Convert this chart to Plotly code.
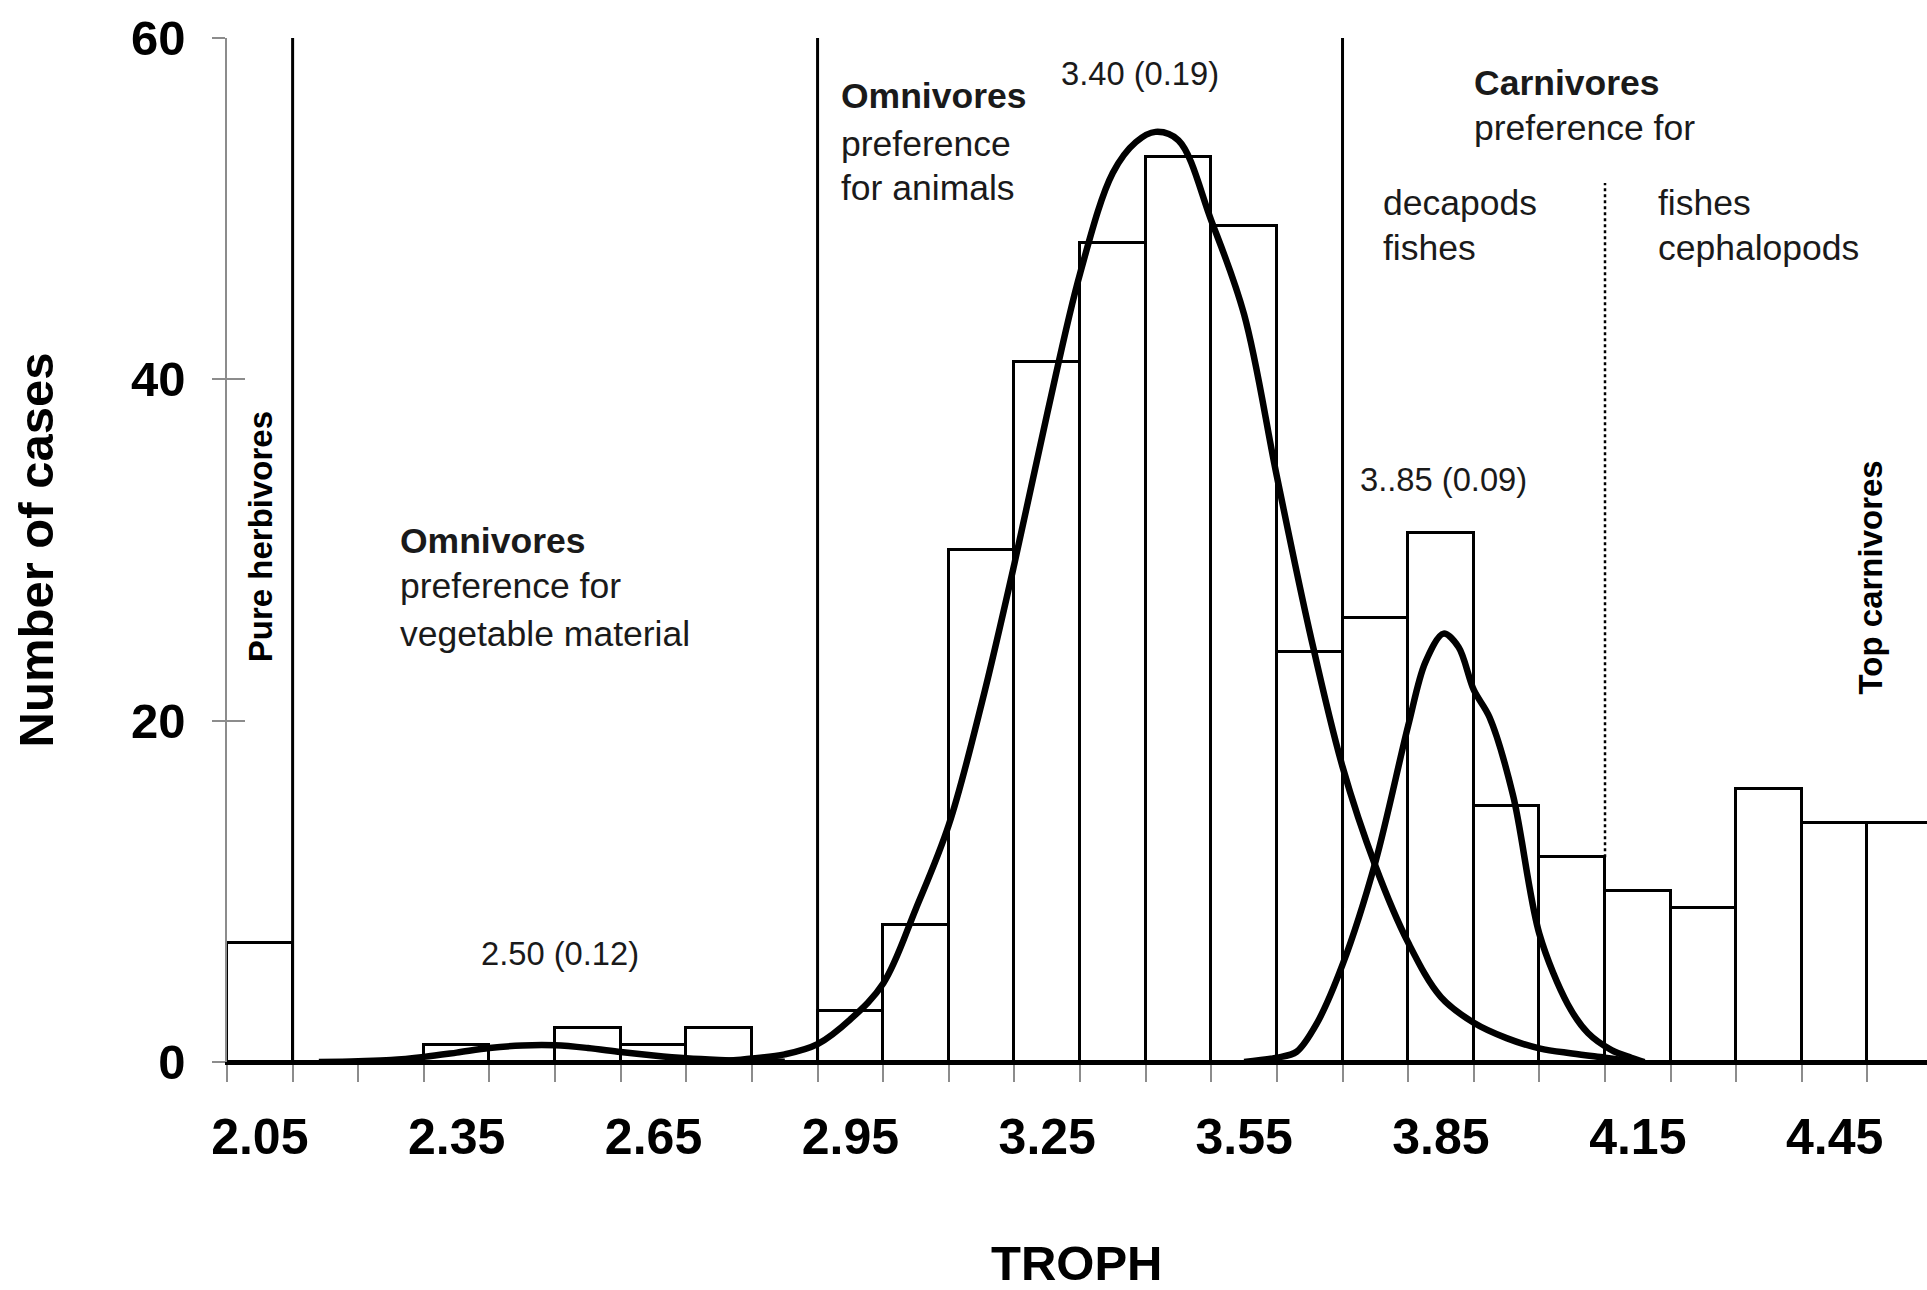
import plotly.graph_objects as go

# Frequency of trophic levels (TROPH), bins 0.1 wide
bin_centers = [2.05, 2.15, 2.25, 2.35, 2.45, 2.55, 2.65, 2.75, 2.85, 2.95,
               3.05, 3.15, 3.25, 3.35, 3.45, 3.55, 3.65, 3.75, 3.85, 3.95,
               4.05, 4.15, 4.25, 4.35, 4.45, 4.55]
counts = [7, 0, 0, 1, 0, 2, 1, 2, 0, 3,
          8, 30, 41, 48, 53, 49, 24, 26, 31, 15,
          12, 10, 9, 16, 14, 14]

# Fitted curves for the three modes
herb_x = [2.14, 2.20, 2.25, 2.30, 2.35, 2.40, 2.45, 2.50, 2.55, 2.60,
          2.65, 2.70, 2.75, 2.80, 2.85]
herb_y = [0.0, 0.05, 0.12, 0.3, 0.55, 0.82, 0.97, 0.98, 0.82, 0.58,
          0.38, 0.22, 0.12, 0.06, 0.02]

omni_x = [2.76, 2.80, 2.85, 2.90, 2.95, 3.00, 3.05, 3.10, 3.15, 3.20,
          3.25, 3.30, 3.35, 3.385, 3.415, 3.45, 3.50, 3.55, 3.60, 3.65,
          3.70, 3.75, 3.80, 3.85, 3.90, 3.95, 4.00, 4.05, 4.10, 4.15]
omni_y = [0.05, 0.2, 0.45, 1.05, 2.5, 4.6, 9.0, 13.9, 21.0, 29.2,
          38.0, 46.2, 52.1, 53.9, 54.5, 54.0, 49.3, 43.8, 34.3, 25.2,
          17.3, 11.5, 7.0, 3.8, 2.3, 1.4, 0.8, 0.5, 0.25, 0.0]

carn_x = [3.55, 3.60, 3.63, 3.66, 3.70, 3.75, 3.80, 3.826, 3.854, 3.877,
          3.90, 3.924, 3.96, 4.00, 4.043, 4.074, 4.11, 4.14, 4.16]
carn_y = [0.0, 0.25, 0.6, 2.2, 5.7, 11.7, 19.7, 23.4, 25.1, 24.3,
          21.8, 20.2, 15.6, 7.5, 3.4, 1.7, 0.7, 0.25, 0.0]

# Class boundaries (solid) and the sub-class boundary (dotted)
boundary_x = [2.1, 2.9, 3.7]
boundary_low = [0, 0, 9]
boundary_high = [60, 60, 60]
sub_boundary_x = 4.1
sub_boundary_low = 12
sub_boundary_high = 51.5

x_tick_vals = [2.05, 2.35, 2.65, 2.95, 3.25, 3.55, 3.85, 4.15, 4.45]
x_tick_text = ["2.05", "2.35", "2.65", "2.95", "3.25", "3.55", "3.85", "4.15", "4.45"]
y_tick_vals = [0, 20, 40, 60]

# Mode labels: text, x, y
mode_labels = [("3.40 (0.19)", 3.391, 57.9),
               ("3..85 (0.09)", 3.854, 34.15),
               ("2.50 (0.12)", 2.5075, 6.34)]

# Group descriptions: text, x (left edge), y, bold
group_lines = [("Omnivores", 2.9326, 56.6, True),
               ("preference", 2.9326, 53.8, False),
               ("for animals", 2.9326, 51.2, False),
               ("Carnivores", 3.897, 57.35, True),
               ("preference for", 3.897, 54.7, False),
               ("decapods", 3.758, 50.36, False),
               ("fishes", 3.758, 47.7, False),
               ("fishes", 4.178, 50.36, False),
               ("cephalopods", 4.178, 47.7, False),
               ("Omnivores", 2.260, 30.55, True),
               ("preference for", 2.260, 27.9, False),
               ("vegetable material", 2.260, 25.1, False)]

# Vertical labels: text, x, y
vertical_labels = [("Pure herbivores", 2.0506, 30.76),
                   ("Top carnivores", 4.504, 28.4)]

BASE_FONT = "Liberation Sans, Arial, sans-serif"

fig = go.Figure()

fig.add_trace(go.Bar(
    x=bin_centers, y=counts, width=0.1,
    marker=dict(color="white", line=dict(color="black", width=3)),
    hoverinfo="skip", showlegend=False,
))

for bx, lo, hi in zip(boundary_x, boundary_low, boundary_high):
    fig.add_trace(go.Scatter(
        x=[bx, bx], y=[lo, hi], mode="lines",
        line=dict(color="black", width=3),
        hoverinfo="skip", showlegend=False,
    ))

fig.add_trace(go.Scatter(
    x=[sub_boundary_x, sub_boundary_x], y=[sub_boundary_low, sub_boundary_high],
    mode="lines", line=dict(color="black", width=2.5, dash="dot"),
    hoverinfo="skip", showlegend=False,
))

for cx, cy, sm in [(herb_x, herb_y, 1.0), (omni_x, omni_y, 1.0), (carn_x, carn_y, 0.9)]:
    fig.add_trace(go.Scatter(
        x=cx, y=cy, mode="lines",
        line=dict(color="black", width=6.5, shape="spline", smoothing=sm),
        hoverinfo="skip", showlegend=False,
    ))

# Empty trace so that the inner-tick y axis is drawn
fig.add_trace(go.Scatter(x=[None], y=[None], yaxis="y2", showlegend=False, hoverinfo="skip"))

annotations = []
for text, x, y in mode_labels:
    annotations.append(dict(x=x, y=y, xref="x", yref="y", text=text, showarrow=False,
                            xanchor="center", yanchor="middle",
                            font=dict(family=BASE_FONT, size=32.7, color="#1a1a1a")))
for text, x, y, bold in group_lines:
    annotations.append(dict(x=x, y=y, xref="x", yref="y",
                            text=f"<b>{text}</b>" if bold else text, showarrow=False,
                            xanchor="left", yanchor="middle",
                            font=dict(family=BASE_FONT, size=35.5, color="#1a1a1a")))
for text, x, y in vertical_labels:
    annotations.append(dict(x=x, y=y, xref="x", yref="y",
                            text=f"<b>{text}</b>", showarrow=False, textangle=-90,
                            xanchor="center", yanchor="middle",
                            font=dict(family=BASE_FONT, size=33, color="black")))

# x-axis title, placed below the tick labels
annotations.append(dict(x=0.5, y=-0.196, xref="paper", yref="paper",
                        text="<b>TROPH</b>", showarrow=False,
                        xanchor="center", yanchor="middle",
                        font=dict(family=BASE_FONT, size=49, color="black")))

fig.update_layout(
    width=1927, height=1290,
    margin=dict(l=227, r=0, t=38, b=228, pad=0),
    paper_bgcolor="white", plot_bgcolor="white",
    bargap=0, showlegend=False,
    annotations=annotations,
    xaxis=dict(
        range=[2.0, 4.5907], showgrid=False, zeroline=False,
        showline=True, linecolor="black", linewidth=3,
        tickmode="array", tickvals=x_tick_vals, ticktext=x_tick_text,
        ticks="", ticklabelstandoff=29,
        tickfont=dict(family=BASE_FONT, size=50, color="black", weight="bold"),
        minor=dict(tick0=2.0, dtick=0.1, ticks="outside", ticklen=17,
                   tickwidth=2, tickcolor="#8c8c8c", showgrid=False),
    ),
    yaxis=dict(
        range=[0, 60], showgrid=False, zeroline=False,
        showline=True, linecolor="#8c8c8c", linewidth=1.5,
        tickmode="array", tickvals=y_tick_vals,
        ticks="outside", ticklen=13, tickwidth=1.5, tickcolor="#8c8c8c",
        ticklabelstandoff=17,
        tickfont=dict(family=BASE_FONT, size=49, color="black", weight="bold"),
        title=dict(text="<b>Number of cases</b>", standoff=62,
                   font=dict(family=BASE_FONT, size=49, color="black")),
    ),
    yaxis2=dict(
        range=[0, 60], overlaying="y", anchor="x", side="left",
        showgrid=False, zeroline=False, showline=False,
        tickmode="array", tickvals=y_tick_vals, showticklabels=False,
        ticks="inside", ticklen=18, tickwidth=1.5, tickcolor="#8c8c8c",
    ),
)

fig.write_html("out.html")
